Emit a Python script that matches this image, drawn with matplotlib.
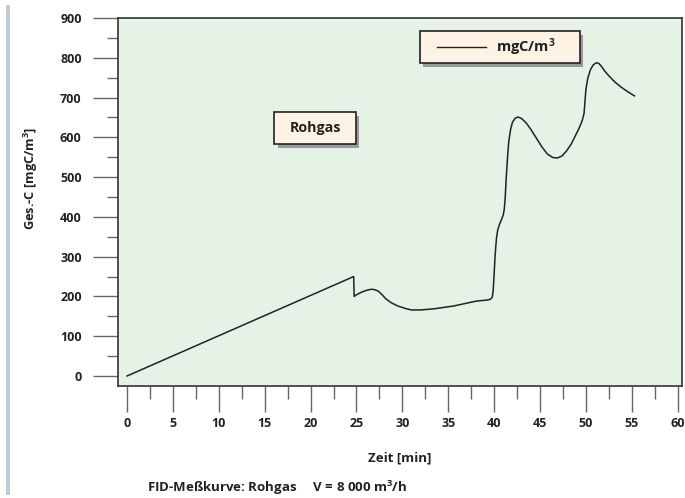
import matplotlib
matplotlib.use("Agg")
import matplotlib.pyplot as plt
from matplotlib.patches import Rectangle
from matplotlib.ticker import MultipleLocator

plt.rcParams['font.family'] = ['Open Sans', 'DejaVu Sans']
plt.rcParams['font.weight'] = 'bold'
plt.rcParams['mathtext.fontset'] = 'custom'
plt.rcParams['mathtext.rm'] = 'Open Sans:bold'
plt.rcParams['mathtext.bf'] = 'Open Sans:bold'
plt.rcParams['mathtext.default'] = 'rm'

# FID-Messkurve (Zeit in min, Ges.-C in mgC/m3)
zeit = [0, 24.7, 24.75, 25.0, 25.4, 25.8, 26.2, 26.6, 27.0, 27.4, 27.8,
        28.2, 28.8, 29.5, 30.3, 31.0, 32.0, 33.5, 35.6, 37.0, 38.0, 38.8,
        39.3, 39.6, 39.8, 39.9, 40.0, 40.1, 40.25, 40.4, 40.6, 40.8, 41.0,
        41.1, 41.2, 41.3, 41.45, 41.6, 41.8, 42.0, 42.3, 42.6, 43.0, 43.5,
        44.0, 44.6, 45.2, 45.8, 46.4, 46.9, 47.4, 47.9, 48.4, 48.9, 49.3,
        49.6, 49.8, 49.9, 50.0, 50.2, 50.5, 50.8, 51.1, 51.4, 51.7, 52.1,
        52.6, 53.2, 53.9, 54.6, 55.3]
gesc = [0, 250, 200, 204, 209, 213, 216, 218, 217, 213, 204,
        194, 184, 176, 170, 166, 166, 169, 176, 183, 188, 190,
        191, 193, 198, 215, 255, 300, 345, 368, 382, 393, 405,
        418, 445, 490, 545, 590, 620, 638, 648, 651, 647, 636,
        620, 598, 576, 558, 549, 548, 553, 566, 583, 606, 625,
        642, 660, 690, 720, 748, 770, 782, 787, 786, 778, 765,
        752, 738, 725, 714, 704]

fig = plt.figure(figsize=(6.85, 4.98), dpi=100)
ax = fig.add_axes([0.172, 0.225, 0.824, 0.739])
ax.set_facecolor('#e6f2e6')

ax.plot(zeit, gesc, color='#222222', lw=1.1)

ax.set_xlim(-1, 60.5)
ax.set_ylim(-25, 900)
ax.xaxis.set_major_locator(MultipleLocator(5))
ax.xaxis.set_minor_locator(MultipleLocator(2.5))
ax.yaxis.set_major_locator(MultipleLocator(100))
ax.yaxis.set_minor_locator(MultipleLocator(50))
ax.set_xticks([0, 5, 10, 15, 20, 25, 30, 35, 40, 45, 50, 55, 60])
ax.tick_params(axis='y', which='major', length=18, width=1, color='#666666',
               pad=8, labelsize=9, labelcolor='#222222')
ax.tick_params(axis='y', which='minor', length=8, width=1, color='#666666')
ax.tick_params(axis='x', which='major', length=19, width=1, color='#666666',
               pad=3, labelsize=9, labelcolor='#222222')
ax.tick_params(axis='x', which='minor', length=9.5, width=1, color='#666666')
for s in ax.spines.values():
    s.set_color('#333333')
    s.set_linewidth(1.2)

ax.set_xlabel('Zeit [min]', fontsize=9.5, fontweight='bold', labelpad=16,
              color='#222222')
ax.set_ylabel('Ges.-C [mgC/m$^3$]', fontsize=9.2, fontweight='bold',
              color='#222222')
ax.yaxis.set_label_coords(-0.138, 0.565)


def box(x0, y0, x1, y1):
    ax.add_patch(Rectangle((x0 + 0.006, y0 - 0.011), x1 - x0, y1 - y0,
                           transform=ax.transAxes, facecolor='#9a9a9a',
                           edgecolor='none', zorder=4))
    ax.add_patch(Rectangle((x0, y0), x1 - x0, y1 - y0,
                           transform=ax.transAxes, facecolor='#fdf2e3',
                           edgecolor='#222222', lw=1.2, zorder=5))


box(0.535, 0.878, 0.819, 0.965)
ax.plot([0.565, 0.652], [0.922, 0.922], transform=ax.transAxes,
        color='#222222', lw=1, zorder=6)
ax.text(0.67, 0.92, 'mgC/m$^3$', transform=ax.transAxes, fontsize=10.5,
        fontweight='bold', va='center', ha='left', color='#222222', zorder=6)

box(0.277, 0.658, 0.422, 0.745)
ax.text(0.3495, 0.7015, 'Rohgas', transform=ax.transAxes, fontsize=10.3,
        fontweight='bold', va='center', ha='center', color='#222222', zorder=6)

# linke graue Leiste
fig.add_artist(Rectangle((0.009, 0.006), 0.005, 0.984, transform=fig.transFigure,
                         facecolor='#bfcbd4', edgecolor='none'))

fig.text(147 / 685, 1 - 488 / 498, 'FID-Meßkurve: Rohgas     V = 8 000 m$^3$/h',
         fontsize=9.5, fontweight='bold', va='center', ha='left', color='#222222')

fig.savefig('out.png', dpi=100)
